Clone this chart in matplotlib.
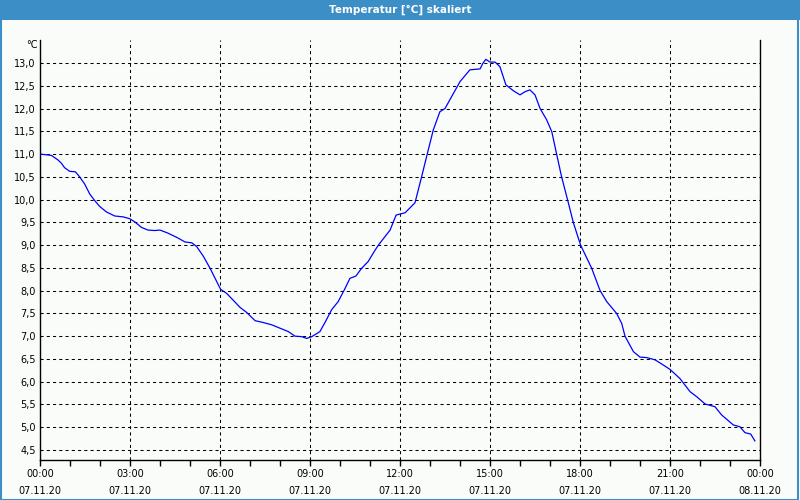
import matplotlib
matplotlib.use("Agg")
import matplotlib.pyplot as plt
from matplotlib.patches import Rectangle
from matplotlib.ticker import MultipleLocator, FixedLocator

title = "Temperatur [°C] skaliert"
unit_label = "°C"
hours = [0.0, 0.38, 0.6, 0.71, 0.82, 0.99, 1.18, 1.32, 1.49, 1.66, 1.82, 1.99, 2.21, 2.49, 2.77, 2.99,
         3.16, 3.38, 3.6, 3.82, 4.0, 4.24, 4.56, 4.83, 5.06, 5.22, 5.44, 5.67, 5.89, 6.02, 6.22, 6.44,
         6.67, 6.89, 7.17, 7.44, 7.72, 7.98, 8.28, 8.5, 8.72, 8.89, 9.06, 9.33, 9.5, 9.72, 9.94, 10.17,
         10.33, 10.53, 10.72, 10.94, 11.17, 11.28, 11.67, 11.87, 12.17, 12.5, 12.72, 12.9, 13.11, 13.33,
         13.5, 13.72, 14.0, 14.33, 14.67, 14.76, 14.86, 15.0, 15.17, 15.33, 15.44, 15.53, 15.78, 16.0,
         16.17, 16.33, 16.5, 16.67, 16.89, 17.06, 17.22, 17.39, 17.58, 17.78, 18.02, 18.39, 18.67, 18.89,
         19.22, 19.39, 19.5, 19.78, 20.0, 20.22, 20.5, 20.72, 21.0, 21.33, 21.67, 21.89, 22.17, 22.5,
         22.72, 23.11, 23.33, 23.5, 23.69, 23.83]
temps = [11.00, 10.97, 10.87, 10.80, 10.70, 10.62, 10.61, 10.50, 10.34, 10.12, 9.98, 9.85, 9.73, 9.64, 9.62, 9.58,
         9.51, 9.39, 9.33, 9.32, 9.33, 9.27, 9.17, 9.07, 9.05, 8.97, 8.76, 8.49, 8.20, 8.03, 7.94, 7.79,
         7.63, 7.52, 7.34, 7.30, 7.25, 7.18, 7.10, 7.00, 6.99, 6.95, 6.99, 7.10, 7.30, 7.58, 7.76, 8.05,
         8.27, 8.32, 8.49, 8.64, 8.89, 9.00, 9.33, 9.66, 9.71, 9.93, 10.50, 10.98, 11.53, 11.93,
         12.00, 12.26, 12.59, 12.85, 12.87, 12.99, 13.08, 13.02, 13.02, 12.92, 12.70, 12.52, 12.39, 12.30,
         12.37, 12.41, 12.30, 12.00, 11.75, 11.49, 11.00, 10.49, 10.01, 9.49, 9.00, 8.49, 8.00, 7.76,
         7.50, 7.28, 7.00, 6.66, 6.54, 6.53, 6.48, 6.39, 6.27, 6.07, 5.78, 5.67, 5.51, 5.45,
         5.27, 5.05, 5.01, 4.88, 4.85, 4.70]
x_ticks = [0, 3, 6, 9, 12, 15, 18, 21, 24]
x_tick_labels = ["00:00\n07.11.20", "03:00\n07.11.20", "06:00\n07.11.20", "09:00\n07.11.20",
                 "12:00\n07.11.20", "15:00\n07.11.20", "18:00\n07.11.20", "21:00\n07.11.20",
                 "00:00\n08.11.20"]
y_ticks = [4.5, 5.0, 5.5, 6.0, 6.5, 7.0, 7.5, 8.0, 8.5, 9.0, 9.5, 10.0, 10.5, 11.0, 11.5, 12.0, 12.5, 13.0]

plt.rcParams['font.family'] = ['DejaVu Sans']
bg = '#fafcfa'
frame_blue = '#3c8fc6'

fig = plt.figure(figsize=(8, 5), dpi=100, facecolor=bg)
# title bar
fig.patches.append(Rectangle((0, 1 - 20/500), 1, 20/500, transform=fig.transFigure,
                             facecolor=frame_blue, edgecolor='none', zorder=0))
# frame border
fig.patches.append(Rectangle((0.5/800, 0.5/500), 1 - 2.5/800, 1 - 1/500, transform=fig.transFigure,
                             facecolor='none', edgecolor=frame_blue, linewidth=1.5, zorder=0))
fig.text(0.5, 1 - 10/500, title, color='white', fontsize=7.5, fontweight='bold',
         ha='center', va='center')

ax = fig.add_axes([40/800, 1 - 460/500, 720/800, 420/500])
ax.set_facecolor(bg)
ax.plot(hours, temps, color='#0000ff', linewidth=0.9, zorder=3)

ax.set_xlim(0, 24)
ax.set_ylim(4.28, 13.505)
ax.xaxis.set_major_locator(FixedLocator(x_ticks))
ax.xaxis.set_minor_locator(MultipleLocator(1))
ax.set_xticklabels(x_tick_labels, fontsize=7, linespacing=1.9)
ax.yaxis.set_major_locator(FixedLocator(y_ticks))
ax.set_yticklabels([f"{v:.1f}".replace('.', ',') for v in y_ticks], fontsize=7)

ax.tick_params(axis='x', which='both', direction='out', length=4, width=1, color='black', pad=2.5)
ax.tick_params(axis='y', which='both', length=0, pad=3)

ax.grid(True, which='major', color='black', linestyle=(0, (3, 3)), linewidth=0.75)
for s in ['left', 'bottom', 'right']:
    ax.spines[s].set_color('black')
    ax.spines[s].set_linewidth(1)
ax.spines['top'].set_visible(False)

fig.text(38/800, 1 - 45/500, unit_label, fontsize=7, ha='right', va='center')

fig.savefig('out.png', dpi=100, facecolor=bg)
